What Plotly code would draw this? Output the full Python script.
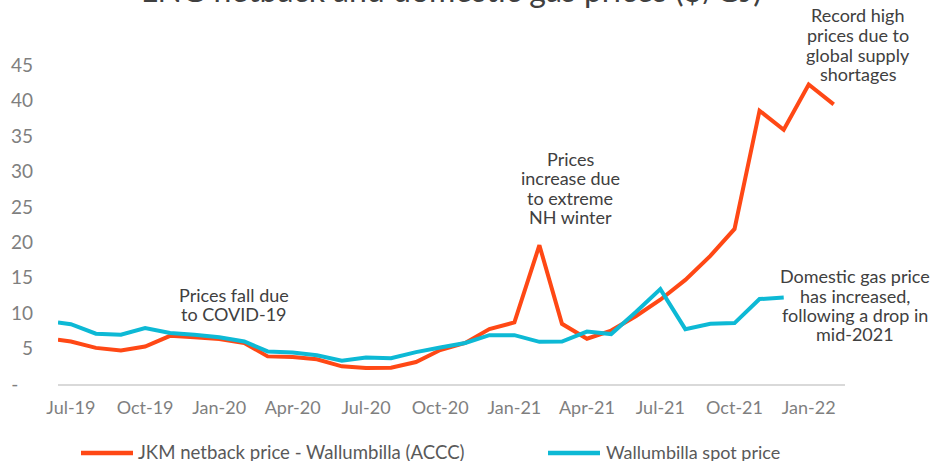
import pandas as pd
import plotly.graph_objects as go

# ---------------- data ----------------
months = ["2019-06-15"] + [d.strftime("%Y-%m-%d") for d in pd.date_range("2019-07-01", "2022-02-01", freq="MS")]

jkm_netback = [6.25, 6.0, 5.1, 4.75, 5.3, 6.8, 6.6, 6.35, 5.8, 3.9, 3.8, 3.5, 2.5, 2.25, 2.3, 3.1,
               4.8, 5.8, 7.75, 8.7, 19.6, 8.5, 6.4, 7.55, 9.6, 11.9, 14.7, 18.1, 21.9, 38.6, 35.9,
               42.3, 39.5]
wallumbilla_spot = [8.7, 8.45, 7.1, 6.95, 7.9, 7.2, 6.95, 6.6, 6.0, 4.6, 4.45, 4.05, 3.3, 3.75, 3.65,
                    4.5, 5.15, 5.8, 6.9, 6.9, 5.95, 6.0, 7.4, 7.05, 10.2, 13.4, 7.75, 8.5, 8.6, 12.0,
                    12.2, None, None]

series_names = ["JKM netback price - Wallumbilla (ACCC)", "Wallumbilla spot price"]
series_colors = ["#FF4815", "#0DB9D5"]

y_tickvals = [0, 5, 10, 15, 20, 25, 30, 35, 40, 45]
y_ticktext = ["-\u00a0\u00a0\u00a0", "5", "10", "15", "20", "25", "30", "35", "40", "45"]

title_text = "LNG netback and domestic gas prices ($/GJ)"
notes = [
    (233.5, [295, 313.7], ["Prices fall due", "to COVID-19"]),
    (570, [159, 178, 197.5, 217], ["Prices", "increase due", "to extreme", "NH winter"]),
    (858, [15, 35, 54.5, 73.5], ["Record high", "prices due to", "global supply", "shortages"]),
    (855, [276, 295.5, 315, 334], ["Domestic gas price", "has increased,", "following a drop in", "mid-2021"]),
]

# ---------------- layout helpers ----------------
W, H = 934, 461
L, R, T, B = 58, 89, 30, 77
PW, PH = W - L - R, H - T - B


def px_x(px):
    return (px - L) / PW


def px_y(py):
    return (H - B - py) / PH


FONT = "Lato"
TEXT_COL = "#404040"

fig = go.Figure()
for vals, name, col in zip([jkm_netback, wallumbilla_spot], series_names, series_colors):
    fig.add_trace(go.Scatter(x=months, y=vals, mode="lines", name=name,
                             line=dict(color=col, width=4), showlegend=False,
                             connectgaps=False))

annotations = []
# title (partly cut off at top as in the reference)
annotations.append(dict(text=title_text, xref="paper", yref="paper", x=px_x(451), y=px_y(-11),
                        xanchor="center", yanchor="middle", showarrow=False,
                        font=dict(family=FONT, size=32, color=TEXT_COL)))
for cx, ys, lines in notes:
    for yy, line in zip(ys, lines):
        annotations.append(dict(text=line, xref="paper", yref="paper", x=px_x(cx), y=px_y(yy),
                                xanchor="center", yanchor="middle", showarrow=False,
                                borderpad=0,
                                font=dict(family=FONT, size=18, color=TEXT_COL)))

# custom legend
shapes = []
legend_items = [(81, 133, 137), (548, 600, 605)]
legend_sizes = [18.6, 18]
for (x0, x1, tx), name, col, fs in zip(legend_items, series_names, series_colors, legend_sizes):
    shapes.append(dict(type="line", xref="paper", yref="paper", x0=px_x(x0), x1=px_x(x1),
                       y0=px_y(453), y1=px_y(453), line=dict(color=col, width=4.5)))
    annotations.append(dict(text=name, xref="paper", yref="paper", x=px_x(tx), y=px_y(452),
                            xanchor="left", yanchor="middle", showarrow=False,
                            borderpad=0,
                            font=dict(family=FONT, size=fs, color="#595959")))

fig.update_layout(
    width=W, height=H,
    margin=dict(l=L, r=R, t=T, b=B, pad=0),
    paper_bgcolor="white", plot_bgcolor="white",
    showlegend=False,
    annotations=annotations,
    shapes=shapes,
    xaxis=dict(type="date", range=["2019-06-15", "2022-02-15"], tick0="2019-07-01", dtick="M3",
               tickformat="%b-%y", showgrid=False, zeroline=False, showline=True,
               linecolor="#D9D9D9", linewidth=2, ticks="", ticklabelstandoff=6,
               tickfont=dict(family=FONT, size=18, color="#7F7F7F")),
    yaxis=dict(range=[0, 50], tickvals=y_tickvals, ticktext=y_ticktext, showgrid=False,
               zeroline=False, showline=False, ticks="", ticklabelstandoff=24,
               tickfont=dict(family=FONT, size=19, color="#7F7F7F")),
)

fig.write_html("out.html", config={"displayModeBar": False},
               post_script="document.body.style.margin='0';document.body.style.overflow='hidden';")
